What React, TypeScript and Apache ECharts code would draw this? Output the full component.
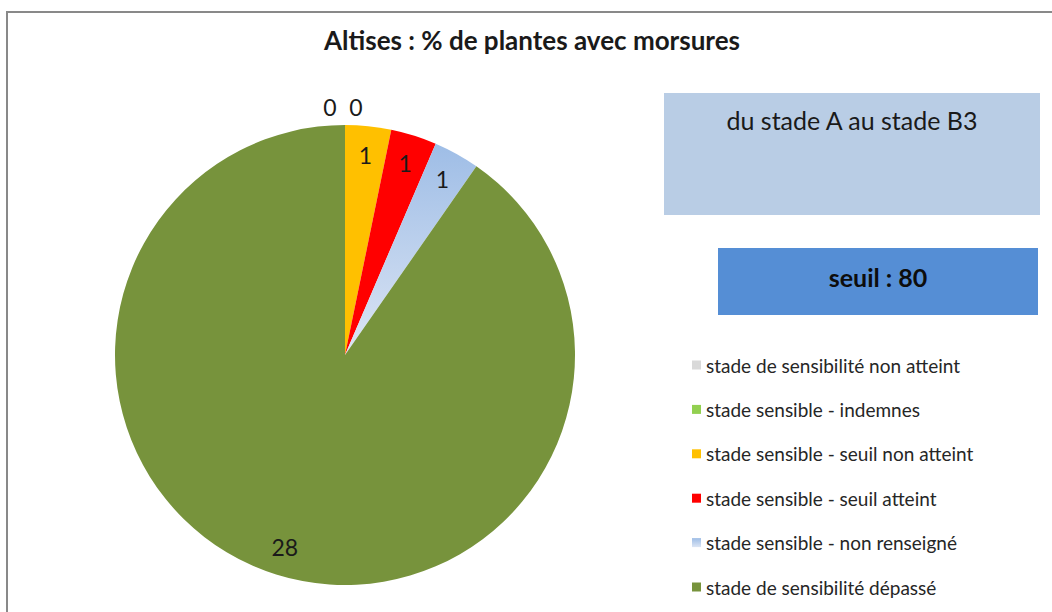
import React, { useEffect, useRef } from "react";
import * as echarts from "echarts";

const titleText = "Altises : % de plantes avec morsures";
const categories = [
  "stade de sensibilité non atteint",
  "stade sensible - indemnes",
  "stade sensible - seuil non atteint",
  "stade sensible - seuil atteint",
  "stade sensible - non renseigné",
  "stade de sensibilité dépassé",
];
const values = [0, 0, 1, 1, 1, 28];
const stageText = "du stade A au stade B3";
const thresholdText = "seuil : 80";

const FONT = "Lato, 'Liberation Sans', sans-serif";

const blueGrad = new echarts.graphic.LinearGradient(0, 0, 0, 1, [
  { offset: 0, color: "#9EBDE6" },
  { offset: 1, color: "#DCE5F4" },
]);
const colors: any[] = ["#D9D9D9", "#92D050", "#FFC000", "#FF0000", blueGrad, "#77933C"];

export default function App() {
  const ref = useRef<HTMLDivElement>(null);
  useEffect(() => {
    if (!ref.current) return;
    const chart = echarts.init(ref.current, null, { renderer: "svg" });
    const mainData = categories.map((name, i) => ({
      name,
      value: values[i],
      itemStyle: { color: colors[i] },
    }));
    const labelData = categories.map((name, i) => ({ name, value: values[i] }));
    chart.setOption({
      animation: false,
      backgroundColor: "#fff",
      title: {
        text: titleText,
        left: 527,
        top: 22,
        textAlign: "center",
        textStyle: { fontFamily: FONT, fontSize: 26, fontWeight: "bold", color: "#1a1a1a" },
      },
      legend: {
        orient: "vertical",
        left: 692,
        top: 355,
        padding: 0,
        icon: "rect",
        itemWidth: 9,
        itemHeight: 9,
        itemGap: 24.4,
        selectedMode: false,
        data: categories,
        textStyle: { fontFamily: FONT, fontSize: 19, color: "#262626", lineHeight: 20 },
      },
      graphic: [
        {
          type: "rect",
          shape: { x: 7, y: 12, width: 1060, height: 620 },
          style: { fill: "none", stroke: "#898989", lineWidth: 2 },
          silent: true,
        },
        {
          type: "rect",
          shape: { x: 664, y: 93, width: 376, height: 122 },
          style: { fill: "#B9CDE5" },
        },
        {
          type: "text",
          x: 852,
          y: 120,
          style: {
            text: stageText,
            fontFamily: FONT,
            fontSize: 25,
            fill: "#1a1a1a",
            align: "center",
            verticalAlign: "middle",
          },
        },
        {
          type: "rect",
          shape: { x: 718, y: 248, width: 320, height: 67 },
          style: { fill: "#558ED5" },
        },
        {
          type: "text",
          x: 878,
          y: 277,
          style: {
            text: thresholdText,
            fontFamily: FONT,
            fontSize: 25,
            fontWeight: "bold",
            fill: "#0d0d0d",
            align: "center",
            verticalAlign: "middle",
          },
        },
      ],
      series: [
        {
          type: "pie",
          center: [345, 355],
          radius: [0, 230],
          startAngle: 90,
          clockwise: true,
          avoidLabelOverlap: false,
          label: { show: false },
          labelLine: { show: false },
          emphasis: { disabled: true },
          itemStyle: { borderWidth: 0 },
          data: mainData,
        },
        {
          type: "pie",
          center: [345, 355],
          radius: [188, 208],
          startAngle: 90,
          clockwise: true,
          silent: true,
          avoidLabelOverlap: false,
          legendHoverLink: false,
          itemStyle: { color: "rgba(0,0,0,0)", borderWidth: 0 },
          label: {
            show: true,
            position: "inside",
            formatter: "{c}",
            fontFamily: FONT,
            fontSize: 23,
            color: "#1a1a1a",
          },
          labelLine: { show: false },
          labelLayout: (params: any) => {
            const i = params.dataIndex;
            if (values[i] === 0) {
              return { dx: i === 0 ? -15 : 11, dy: -47 };
            }
            return {};
          },
          emphasis: { disabled: true },
          data: labelData,
        },
      ],
    });
    return () => chart.dispose();
  }, []);
  return (
    <div
      ref={ref}
      style={{ position: "absolute", left: 0, top: 0, width: 1052, height: 612 }}
    />
  );
}
